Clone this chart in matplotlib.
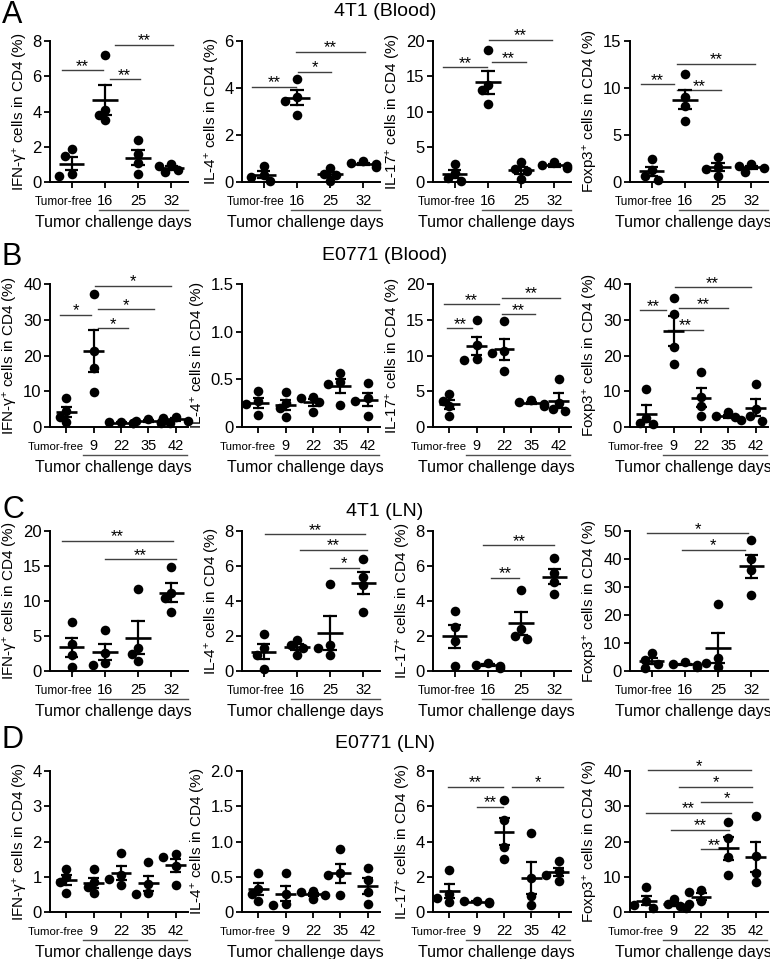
import numpy as np
import matplotlib
matplotlib.use('Agg')
import matplotlib.pyplot as plt
from matplotlib import transforms

plt.rcParams['font.family'] = ['Liberation Sans', 'DejaVu Sans']
plt.rcParams['mathtext.fontset'] = 'custom'
plt.rcParams['mathtext.rm'] = 'Liberation Sans'
plt.rcParams['mathtext.it'] = 'Liberation Sans:italic'
plt.rcParams['mathtext.bf'] = 'Liberation Sans:bold'

## Category labels
days_4t1 = ['Tumor-free', '16', '25', '32']
days_e0771 = ['Tumor-free', '9', '22', '35', '42']

## A: 4T1 (Blood) - values per group (% of CD4)
a_ifng = [[1.85, 1.5, 0.45, 0.35], [7.2, 4.1, 3.8, 3.5], [2.4, 1.6, 1.1, 0.45], [1.0, 0.9, 0.7, 0.55]]
a_il4 = [[0.7, 0.3, 0.2, 0.05], [4.4, 3.6, 3.45, 2.85], [0.6, 0.35, 0.3, 0.05], [0.9, 0.8, 0.75, 0.65]]
a_il17 = [[2.5, 1.3, 0.5, 0.2], [18.7, 13.7, 13.0, 11.1], [2.9, 1.9, 1.5, 0.4], [2.8, 2.4, 2.2, 2.0]]
a_foxp3 = [[2.4, 1.3, 0.6, 0.2], [11.5, 9.0, 8.1, 6.5], [2.7, 1.6, 1.4, 0.6], [1.9, 1.7, 1.5, 1.1]]

## B: E0771 (Blood)
b_ifng = [[8.0, 4.5, 2.8, 1.5], [37.3, 21.3, 16.6, 9.8], [1.5, 1.3, 1.2, 1.0], [2.2, 1.8, 1.5, 1.0], [2.8, 2.6, 1.8, 1.2]]
b_il4 = [[0.38, 0.27, 0.24, 0.13], [0.37, 0.25, 0.2, 0.1], [0.31, 0.3, 0.26, 0.16], [0.57, 0.47, 0.45, 0.23], [0.46, 0.3, 0.27, 0.12]]
b_il17 = [[4.6, 3.6, 2.9, 1.6], [15.0, 11.4, 9.5, 9.4], [14.8, 10.6, 10.3, 7.8], [3.8, 3.5, 3.2, 2.9], [6.7, 3.4, 2.5, 2.2]]
b_foxp3 = [[10.5, 2.5, 1.2, 0.8], [36.2, 31.5, 22.5, 17.5], [15.3, 8.5, 5.8, 3.0], [4.2, 3.1, 2.8, 2.0], [12.0, 5.0, 3.0, 1.8]]

## C: 4T1 (LN)
c_ifng = [[7.0, 3.8, 2.3, 0.6], [5.9, 2.6, 1.2, 0.9], [11.7, 3.3, 2.5, 1.5], [14.8, 11.1, 10.4, 8.5]]
c_il4 = [[2.1, 1.3, 0.9, 0.1], [1.8, 1.5, 1.3, 0.9], [5.0, 1.5, 1.3, 0.9], [6.4, 5.4, 4.9, 3.4]]
c_il17 = [[3.45, 2.5, 1.7, 0.3], [0.45, 0.35, 0.3, 0.2], [4.65, 2.4, 2.0, 1.85], [6.45, 5.6, 5.1, 4.4]]
c_foxp3 = [[6.5, 4.0, 2.5, 1.0], [3.2, 2.5, 2.0, 1.6], [23.8, 4.5, 3.0, 1.5], [46.8, 40.0, 36.0, 27.0]]

## D: E0771 (LN)
d_ifng = [[1.22, 0.98, 0.85, 0.55], [1.23, 0.85, 0.7, 0.54], [1.67, 1.05, 0.95, 0.78], [1.42, 0.8, 0.55, 0.5], [1.65, 1.55, 1.3, 0.78]]
d_il4 = [[0.56, 0.33, 0.25, 0.15], [0.56, 0.25, 0.12, 0.1], [0.3, 0.28, 0.24, 0.18], [0.9, 0.55, 0.52, 0.24], [0.62, 0.45, 0.28, 0.12]]
d_il17 = [[2.4, 1.0, 0.8, 0.55], [0.65, 0.6, 0.55, 0.5], [6.35, 5.2, 3.7, 3.0], [4.5, 1.95, 0.9, 0.4], [2.9, 2.3, 2.1, 1.75]]
d_foxp3 = [[7.0, 3.0, 2.0, 1.0], [3.6, 2.2, 1.8, 1.2], [6.1, 5.8, 3.0, 2.3], [25.5, 21.0, 15.5, 10.5], [27.3, 15.8, 11.0, 8.5]]

## Significance bars: (from, to, height, label)
a_ifng_sig = [(-0.3, 0.95, 6.33, '**'), (1.14, 2.05, 5.82, '**'), (1.29, 3.06, 7.79, '**')]
a_il4_sig = [(-0.34, 0.97, 4.05, '**'), (1.02, 2.04, 4.70, '*'), (0.97, 3.06, 5.54, '**')]
a_il17_sig = [(-0.34, 0.97, 16.3, '**'), (1.11, 2.14, 17.0, '**'), (1.02, 2.92, 20.2, '**')]
a_foxp3_sig = [(-0.33, 0.67, 10.39, '**'), (0.76, 2.1, 9.75, '**'), (0.76, 3.1, 12.59, '**')]
b_ifng_sig = [(-0.24, 0.91, 31.4, '*'), (1.15, 2.27, 27.6, '*'), (1.15, 3.2, 33.0, '*'), (1.03, 3.82, 39.5, '*')]
b_il17_sig = [(-0.18, 1.8, 17.2, '**'), (-0.08, 0.84, 13.8, '**'), (1.93, 3.13, 15.8, '**'), (1.93, 4.06, 18.1, '**')]
b_foxp3_sig = [(-0.24, 0.73, 32.6, '**'), (0.79, 2.06, 27.2, '**'), (1.21, 2.97, 33.3, '**'), (1.03, 3.82, 39.1, '**')]
c_ifng_sig = [(-0.29, 3.04, 18.6, '**'), (0.99, 3.15, 15.95, '**')]
c_il4_sig = [(0.05, 3.05, 7.83, '**'), (1.1, 3.1, 6.93, '**'), (2.0, 2.86, 5.9, '*')]
c_il17_sig = [(0.86, 3.0, 7.19, '**'), (1.1, 1.95, 5.33, '**')]
c_foxp3_sig = [(-0.14, 2.9, 49.2, '*'), (0.9, 2.81, 43.3, '*')]
d_il17_sig = [(-0.06, 1.97, 7.12, '**'), (1.0, 1.97, 5.97, '**'), (2.3, 4.17, 7.12, '*')]
d_foxp3_sig = [(0.06, 3.82, 40.2, '*'), (1.21, 3.88, 35.6, '*'), (2.0, 3.88, 31.2, '*'),
               (0.0, 3.09, 28.2, '**'), (0.91, 3.03, 23.4, '**'), (2.0, 2.97, 17.8, '**')]

lab_ifng = 'IFN-γ$^{+}$ cells in CD4 (%)'
lab_il4 = 'IL-4$^{+}$ cells in CD4 (%)'
lab_il17 = 'IL-17$^{+}$ cells in CD4 (%)'
lab_foxp3 = 'Foxp3$^{+}$ cells in CD4 (%)'

rows = [
    ('A', '4T1 (Blood)', days_4t1, [(a_ifng, 8, 2, lab_ifng, a_ifng_sig), (a_il4, 6, 2, lab_il4, a_il4_sig),
                                     (a_il17, 20, 5, lab_il17, a_il17_sig), (a_foxp3, 15, 5, lab_foxp3, a_foxp3_sig)]),
    ('B', 'E0771 (Blood)', days_e0771, [(b_ifng, 40, 10, lab_ifng, b_ifng_sig), (b_il4, 1.5, 0.5, lab_il4, []),
                                         (b_il17, 20, 5, lab_il17, b_il17_sig), (b_foxp3, 40, 10, lab_foxp3, b_foxp3_sig)]),
    ('C', '4T1 (LN)', days_4t1, [(c_ifng, 20, 5, lab_ifng, c_ifng_sig), (c_il4, 8, 2, lab_il4, c_il4_sig),
                                  (c_il17, 8, 2, lab_il17, c_il17_sig), (c_foxp3, 50, 10, lab_foxp3, c_foxp3_sig)]),
    ('D', 'E0771 (LN)', days_e0771, [(d_ifng, 4, 1, lab_ifng, []), (d_il4, 2.0, 0.5, lab_il4, []),
                                      (d_il17, 8, 2, lab_il17, d_il17_sig), (d_foxp3, 40, 10, lab_foxp3, d_foxp3_sig)]),
]

W, H = 770, 959
row_px = [(41, 182), (284, 427), (531, 671), (771, 912)]  ## top, bottom of each row of axes
col_px = [50, 242, 433, 630]
ax_w = 138
title_y = [11, 255, 512, 743]
letter_y = [15, 257, 510, 740]
DOT_PX = 9.5


def spread(vals, ymax, h_px, step_px):
    ## Simple dodge so overlapping dots are pushed sideways, like a scatter dot plot
    placed = []
    xs = [0.0] * len(vals)
    order = sorted(range(len(vals)), key=lambda i: -vals[i])
    for i in order:
        y = vals[i] / ymax * h_px
        x = 0.0
        for k in [0, -1, 1, -2, 2]:
            x = k * 0.65 * DOT_PX
            if all((x - px) ** 2 + (y - py) ** 2 >= (0.8 * DOT_PX) ** 2 for px, py in placed):
                break
        placed.append((x, y))
        xs[i] = x / step_px
    return xs


def draw_panel(fig, ax, groups, days, ymax, ystep, ylabel, sigs, h_px):
    n = len(days)
    if n == 4:
        xlim = (-0.65, 3.5); tf_x = -0.24; tf_fs = 8.5; ul = (0.82, 3.5)
    else:
        xlim = (-0.6, 4.45); tf_x = -0.4; tf_fs = 8.2; ul = (0.6, 4.4)
    step_px = ax_w / (xlim[1] - xlim[0])
    for i, vals in enumerate(groups):
        offs = spread(vals, ymax, h_px, step_px)
        ax.scatter([i + o for o in offs], vals, s=48, color='black', zorder=3, clip_on=False, linewidths=0)
        m = np.mean(vals)
        se = np.std(vals, ddof=1) / np.sqrt(len(vals))
        ax.plot([i - 0.38, i + 0.38], [m, m], color='black', lw=1.9, zorder=4, solid_capstyle='butt')
        ax.plot([i, i], [m - se, m + se], color='black', lw=1.6, zorder=4)
        for yy in (m - se, m + se):
            ax.plot([i - 0.2, i + 0.2], [yy, yy], color='black', lw=1.6, zorder=4, solid_capstyle='butt')
    for x1, x2, y, lab in sigs:
        ax.plot([x1, x2], [y, y], color='#404040', lw=1.0, clip_on=False)
        ax.annotate(lab, xy=((x1 + x2) / 2, y), xytext=(0, -0.5), textcoords='offset points',
                    ha='center', va='baseline', fontsize=12, annotation_clip=False)
    ax.set_xlim(*xlim)
    ax.set_ylim(0, ymax)
    yt = np.arange(0, ymax + ystep / 2, ystep)
    ax.set_yticks(yt)
    if ystep < 1:
        ax.set_yticklabels(['0' if v == 0 else f'{v:.1f}' for v in yt])
    else:
        ax.set_yticklabels([f'{v:g}' for v in yt])
    ax.set_xticks(range(n))
    ax.set_xticklabels([])
    ax.tick_params(axis='both', direction='out', length=4, width=1.3, labelsize=12, pad=2)
    for s in ['top', 'right']:
        ax.spines[s].set_visible(False)
    for s in ['left', 'bottom']:
        ax.spines[s].set_linewidth(1.4)
    ax.set_ylabel(ylabel, fontsize=11, labelpad=2)
    trans = transforms.blended_transform_factory(ax.transData, ax.transAxes)
    for i, lab in enumerate(days):
        x = tf_x if i == 0 else i
        fs = tf_fs if i == 0 else 10.5
        ax.annotate(lab, xy=(x, 0), xycoords=trans, xytext=(0, -16.5), textcoords='offset points',
                    ha='center', va='baseline', fontsize=fs, annotation_clip=False)
    ul_trans = transforms.offset_copy(trans, fig=fig, y=-20, units='points')
    ax.plot(list(ul), [0, 0], transform=ul_trans, color='#505050', lw=1.0, clip_on=False)
    ax.annotate('Tumor challenge days', xy=(0.46, 0), xycoords='axes fraction', xytext=(0, -29),
                textcoords='offset points', ha='center', va='center', fontsize=11.5, annotation_clip=False)


fig = plt.figure(figsize=(W / 100, H / 100), dpi=100)
for r, (letter, title, days, panels) in enumerate(rows):
    top, bot = row_px[r]
    for c, (groups, ymax, ystep, ylabel, sigs) in enumerate(panels):
        ax = fig.add_axes([col_px[c] / W, 1 - bot / H, ax_w / W, (bot - top) / H])
        draw_panel(fig, ax, groups, days, ymax, ystep, ylabel, sigs, bot - top)
    fig.text(385 / W, 1 - title_y[r] / H, title, ha='center', va='center', fontsize=14)
    fig.text(2 / W, 1 - letter_y[r] / H, letter, ha='left', va='center', fontsize=22)

fig.savefig('out.png', dpi=100)
